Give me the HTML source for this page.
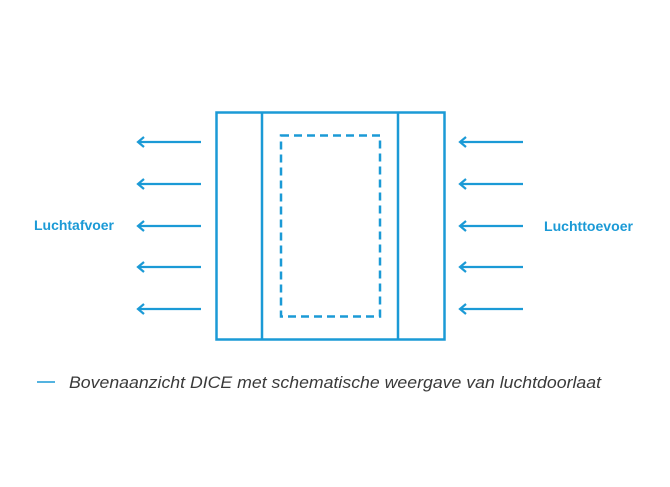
<!DOCTYPE html>
<html><head><style>
html,body{margin:0;padding:0;background:#fff;}
</style></head><body>
<svg width="670" height="482" viewBox="0 0 670 482" xmlns="http://www.w3.org/2000/svg">
<g fill="none" stroke="#1b9ad6" stroke-width="2.5">
<rect x="216.5" y="112.5" width="228" height="227"/>
<line x1="262" y1="112" x2="262" y2="340"/>
<line x1="398" y1="112" x2="398" y2="340"/>
<rect x="281" y="135.5" width="99" height="181" stroke-dasharray="8,5"/>
<g stroke-width="2.2">
<path d="M138 142H201M144 137L138 142L144 147"/>
<path d="M138 184H201M144 179L138 184L144 189"/>
<path d="M138 226H201M144 221L138 226L144 231"/>
<path d="M138 267H201M144 262L138 267L144 272"/>
<path d="M138 309H201M144 304L138 309L144 314"/>
<path d="M460 142H523M466 137L460 142L466 147"/>
<path d="M460 184H523M466 179L460 184L466 189"/>
<path d="M460 226H523M466 221L460 226L466 231"/>
<path d="M460 267H523M466 262L460 267L466 272"/>
<path d="M460 309H523M466 304L460 309L466 314"/>
</g>
<line x1="37" y1="382" x2="55" y2="382" stroke-width="1.5"/>
</g>
<g font-family="Liberation Sans, sans-serif" font-weight="bold" font-size="14" fill="#1b9ad6">
<text x="34" y="230" textLength="80" lengthAdjust="spacingAndGlyphs">Luchtafvoer</text>
<text x="544" y="231" textLength="89" lengthAdjust="spacingAndGlyphs">Luchttoevoer</text>
</g>
<text x="69" y="388" font-family="Liberation Sans, sans-serif" font-style="italic" font-size="17" fill="#3a3a3a" textLength="532" lengthAdjust="spacingAndGlyphs">Bovenaanzicht DICE met schematische weergave van luchtdoorlaat</text>
</svg>
</body></html>
